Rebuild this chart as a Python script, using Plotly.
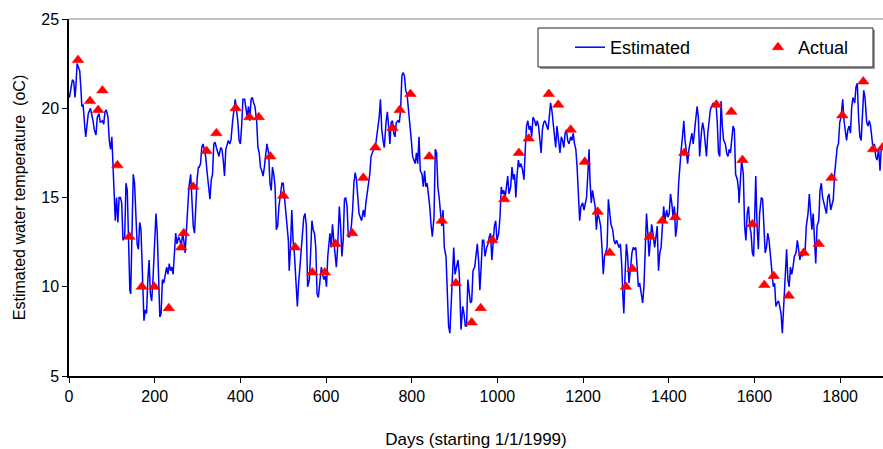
import plotly.graph_objects as go

# Estimated daily water temperature (oC), read at ~3-day spacing
est_day = [
    1, 8, 11, 14, 16, 19, 22, 25, 28, 30, 33, 35, 37, 39, 42, 45, 50, 53, 56, 59,
    63, 66, 70, 73, 78, 81, 84, 87, 91, 94, 97, 100, 102, 103, 105, 108, 111, 114, 117, 120,
    123, 126, 130, 133, 136, 139, 142, 144, 147, 150, 153, 156, 159, 162, 165, 168, 172, 175, 178, 181,
    184, 187, 190, 193, 196, 200, 203, 206, 209, 212, 215, 218, 221, 224, 228, 231, 234, 237, 240, 243,
    246, 249, 252, 256, 259, 262, 265, 268, 271, 274, 277, 280, 284, 287, 290, 293, 296, 299, 302,
    304, 307, 310, 313, 316, 319, 322, 326, 329, 332, 335, 338, 341, 344, 347, 350, 354, 357, 360, 363,
    366, 369, 372, 375, 378, 382, 385, 388, 391, 394, 397, 400, 403, 406, 410, 413, 416, 419, 422, 425,
    428, 431, 434, 438, 441, 444, 447, 450, 453, 456, 459, 462, 466, 469, 472, 475, 478, 481, 484, 487,
    490, 494, 497, 500, 503, 506, 509, 512, 514, 517, 520, 523, 526, 529, 533, 536, 539, 542, 545, 548,
    551, 554, 557, 561, 564, 567, 570, 573, 576, 579, 582, 585, 589, 592, 595, 598, 601, 604, 607,
    609, 612, 615, 618, 621, 624, 627, 631, 634, 637, 640, 643, 646, 649, 652, 655, 659, 662, 665, 668,
    671, 674, 677, 680, 683, 687, 690, 693, 696, 699, 702, 705, 708, 711, 715, 718, 721, 724, 727, 730,
    733, 736, 740, 743, 746, 749, 752, 755, 758, 761, 764, 768, 771, 774, 777, 780, 783, 786, 789, 792,
    796, 799, 802, 805, 808, 811, 814, 817, 820, 824, 827, 830, 833, 836, 839, 842, 845, 848, 852, 855,
    858, 861, 864, 867, 870, 873, 876, 880, 883, 886, 889, 892, 895, 898, 901, 904, 908, 911,
    912, 915, 919, 922, 925, 928, 931, 934, 937, 940, 943, 947, 950, 953, 956, 959, 962, 965, 968, 971,
    975, 978, 981, 984, 987, 990, 993, 996, 999, 1003, 1006, 1009, 1012, 1015, 1018, 1021, 1024, 1027, 1031, 1034,
    1037, 1040, 1043, 1046, 1049, 1052, 1055, 1059, 1062, 1065, 1068, 1071, 1074, 1077, 1080, 1083, 1087, 1090, 1093, 1096,
    1099, 1102, 1105, 1108, 1111, 1115, 1118, 1121, 1124, 1127, 1130, 1133, 1136, 1139, 1143, 1146, 1149, 1152, 1155, 1158,
    1161, 1164, 1167, 1171, 1174, 1177, 1180, 1183, 1186, 1189, 1192, 1195, 1199, 1202, 1205, 1208, 1211, 1214,
    1216, 1219, 1222, 1225, 1228, 1231, 1234, 1237, 1241, 1244, 1247, 1250, 1253, 1256, 1259, 1262, 1265, 1269, 1272, 1275,
    1278, 1281, 1284, 1287, 1290, 1293, 1295, 1298, 1301, 1304, 1307, 1311, 1314, 1317, 1320, 1323, 1326, 1329, 1332, 1335,
    1339, 1342, 1345, 1348, 1351, 1354, 1357, 1360, 1363, 1367, 1370, 1373, 1376, 1379, 1382, 1385, 1388, 1391, 1395, 1398,
    1401, 1404, 1407, 1410, 1413, 1416, 1419, 1423, 1426, 1429, 1432, 1435, 1438, 1441, 1444, 1447, 1451, 1454, 1457, 1460,
    1463, 1466, 1469, 1472, 1476, 1479, 1482, 1485, 1488, 1491, 1494, 1497, 1500, 1504, 1507, 1510, 1513, 1516, 1519,
    1522, 1525, 1528, 1532, 1535, 1538, 1541, 1544, 1547, 1550, 1553, 1556, 1560, 1563, 1564, 1567, 1570, 1574, 1577, 1580,
    1583, 1586, 1589, 1592, 1595, 1598, 1602, 1603, 1606, 1609, 1612, 1616, 1619, 1622, 1625, 1628, 1631, 1634, 1637, 1640,
    1644, 1647, 1650, 1653, 1656, 1659, 1662, 1665, 1669, 1672, 1675, 1678, 1681, 1684, 1687, 1690, 1693, 1697, 1700, 1703,
    1706, 1709, 1712, 1715, 1718, 1721, 1725, 1728, 1731, 1734, 1737, 1740, 1743, 1746, 1750, 1753, 1756, 1759, 1762, 1765,
    1768, 1771, 1774, 1778, 1781, 1784, 1787, 1790, 1793, 1796, 1799, 1802, 1806, 1809, 1812, 1815, 1818, 1821, 1824, 1827,
    1830, 1834, 1837, 1840, 1843, 1846, 1849, 1852, 1855, 1858, 1862, 1865, 1868, 1871, 1874, 1877, 1880, 1883, 1886, 1890,
    1893, 1896, 1899,
]
est_temp = [
    20.6, 21.6, 21.5, 20.6, 21.2, 22.5, 22.3, 22.1, 21.0, 20.1, 20.2, 19.3, 18.9, 18.4, 19.3, 19.7, 20.0, 19.7, 19.3, 18.8,
    18.5, 19.5, 19.7, 19.2, 19.3, 19.1, 19.8, 19.9, 19.5, 18.2, 17.7, 18.4, 17.3, 16.7, 14.9, 13.7, 15.0, 13.6, 15.0, 15.0,
    14.7, 12.6, 12.8, 15.8, 15.4, 12.8, 9.8, 9.6, 13.4, 16.3, 15.8, 13.7, 12.4, 12.1, 13.6, 13.2, 10.7, 8.1, 8.7, 8.5,
    10.4, 11.5, 9.6, 9.2, 10.4, 12.6, 14.1, 13.0, 10.4, 8.3, 8.5, 10.4, 10.2, 10.7, 11.1, 10.7, 11.3, 10.9, 11.1, 10.7,
    11.9, 13.0, 12.4, 12.8, 12.6, 12.2, 13.0, 12.6, 11.9, 13.4, 14.5, 15.6, 16.3, 14.9, 13.4, 13.0, 15.0, 16.0, 16.7,
    16.7, 16.9, 17.8, 18.0, 17.7, 17.3, 16.5, 15.4, 14.9, 16.0, 16.3, 18.0, 18.1, 17.8, 17.5, 17.3, 17.8, 17.7, 17.1, 16.2,
    17.7, 18.0, 18.2, 18.0, 18.2, 19.3, 20.1, 20.5, 19.9, 19.3, 18.2, 18.0, 19.0, 20.5, 20.5, 20.1, 19.5, 20.1, 19.3, 20.5,
    20.6, 20.3, 20.1, 19.3, 17.8, 17.5, 16.7, 16.5, 16.2, 16.7, 17.3, 18.0, 17.5, 15.8, 15.4, 16.7, 16.3, 15.6, 13.2, 13.4,
    14.5, 15.2, 15.8, 15.8, 15.0, 13.9, 13.4, 12.6, 10.9, 12.2, 14.3, 12.6, 11.9, 10.7, 8.9, 10.2, 11.1, 11.9, 13.0, 13.9,
    14.1, 13.4, 10.0, 10.4, 11.9, 13.7, 13.2, 13.0, 12.2, 9.6, 9.4, 10.2, 11.1, 10.7, 10.4, 10.6, 10.0, 11.7, 12.8,
    13.0, 12.2, 13.5, 12.6, 11.9, 11.1, 12.2, 14.5, 13.4, 11.7, 12.6, 14.9, 15.0, 14.5, 12.8, 12.8, 13.4, 14.3, 15.8, 16.4,
    16.0, 15.0, 14.1, 13.9, 13.7, 14.3, 13.9, 14.7, 15.2, 15.8, 16.3, 17.3, 17.5, 17.7, 17.8, 18.4, 19.0, 19.5, 20.5, 18.8,
    18.2, 17.8, 19.2, 19.8, 19.0, 18.0, 19.2, 19.3, 18.6, 18.4, 19.2, 19.3, 19.2, 19.9, 21.8, 22.0, 21.8, 21.0, 20.8, 20.1,
    19.2, 18.2, 17.3, 17.1, 16.9, 17.5, 16.9, 18.4, 16.5, 16.3, 15.6, 16.5, 15.6, 15.8, 15.2, 14.5, 13.5, 12.8, 13.9, 17.7,
    17.5, 15.6, 15.0, 13.9, 13.4, 14.3, 12.2, 11.7, 9.6, 7.8, 7.4, 8.9, 10.7, 12.2, 10.7, 11.1, 11.5, 10.7,
    9.6, 7.6, 8.9, 8.5, 7.8, 7.8, 10.4, 9.6, 9.1, 9.2, 10.9, 11.1, 11.9, 12.4, 11.5, 9.8, 11.1, 12.6, 12.6, 11.7,
    12.2, 12.4, 12.8, 13.0, 11.5, 12.6, 13.4, 13.7, 12.6, 13.0, 13.9, 15.6, 15.2, 15.4, 15.0, 15.6, 16.2, 15.2, 15.6, 16.7,
    16.0, 16.3, 15.0, 16.3, 17.1, 16.7, 16.9, 16.5, 16.0, 17.7, 19.0, 19.3, 18.8, 19.0, 18.4, 19.5, 19.3, 19.0, 19.3, 19.0,
    18.4, 17.5, 18.8, 19.2, 19.3, 19.0, 18.8, 19.5, 20.3, 19.9, 19.2, 18.4, 17.8, 19.0, 18.2, 17.5, 18.4, 18.2, 17.8, 18.6,
    18.8, 18.2, 18.0, 18.4, 18.2, 18.6, 18.0, 17.7, 16.7, 14.9, 13.7, 14.5, 14.7, 14.3, 14.7, 15.0, 16.3, 17.7,
    16.0, 14.7, 15.4, 15.0, 14.5, 13.2, 14.1, 13.9, 13.4, 12.2, 10.7, 11.7, 11.9, 12.2, 14.9, 14.1, 13.5, 13.2, 12.6, 12.4,
    12.6, 12.4, 12.2, 12.4, 11.3, 9.4, 8.5, 10.7, 12.4, 11.7, 10.2, 11.1, 11.9, 12.2, 12.1, 12.2, 10.7, 10.0, 10.2, 9.6,
    9.1, 10.0, 12.6, 14.1, 13.0, 11.7, 12.6, 13.5, 13.0, 12.2, 12.8, 13.4, 10.9, 11.9, 12.2, 13.5, 14.5, 13.7, 14.3, 13.9,
    14.1, 15.2, 14.7, 13.9, 14.5, 12.8, 13.4, 15.8, 16.9, 17.7, 18.4, 19.3, 18.2, 17.5, 16.9, 17.7, 18.2, 18.6, 18.0, 18.6,
    19.5, 20.1, 19.5, 17.3, 18.6, 19.2, 18.8, 18.2, 17.3, 18.6, 19.5, 19.9, 20.1, 20.3, 20.1, 20.3, 19.3, 17.5, 17.3,
    20.4, 19.0, 18.2, 18.0, 17.5, 17.3, 17.7, 17.5, 18.2, 19.0, 18.8, 16.3, 16.0, 15.4, 14.7, 16.3, 17.1, 16.3, 13.4, 12.6,
    14.1, 14.5, 13.4, 13.0, 11.9, 11.7, 15.4, 16.2, 13.4, 12.1, 14.1, 15.0, 14.9, 13.4, 11.9, 12.2, 13.0, 12.6, 11.7, 10.7,
    10.0, 10.2, 8.9, 9.1, 9.2, 8.9, 8.5, 7.4, 9.1, 11.1, 12.1, 10.4, 10.0, 11.1, 10.7, 11.1, 11.7, 11.9, 12.6, 12.1,
    11.5, 11.9, 11.7, 12.1, 11.9, 13.4, 14.1, 15.2, 14.1, 13.2, 14.1, 12.8, 11.3, 13.4, 13.7, 15.4, 15.8, 15.0, 14.7, 14.5,
    14.1, 15.0, 15.2, 14.3, 14.7, 14.9, 16.3, 17.3, 17.8, 18.0, 19.2, 19.5, 20.5, 19.3, 18.8, 18.2, 18.8, 19.0, 18.6, 20.1,
    20.6, 20.3, 21.2, 21.4, 19.5, 18.4, 18.2, 20.1, 21.0, 20.6, 19.2, 19.0, 19.3, 19.0, 18.2, 17.7, 18.0, 17.3, 17.1, 17.7,
    16.5, 17.8, 17.7,
]

# Measured water temperature (oC)
act_day = [21, 49, 68, 78, 113, 141, 170, 199, 233, 262, 268, 290, 321, 344, 389, 421,
           443, 470, 500, 528, 568, 597, 622, 661, 687, 715, 755, 772, 797, 841, 870, 903,
           940, 961, 988, 1016, 1050, 1073, 1120, 1142, 1171, 1204, 1234, 1262, 1300, 1315,
           1356, 1385, 1415, 1436, 1511, 1546, 1572, 1595, 1623, 1645, 1680, 1715, 1750,
           1780, 1805, 1854, 1877, 1899]
act_temp = [22.7, 20.4, 19.9, 21.0, 16.8, 12.8, 10.0, 10.0, 8.8, 12.2, 13.0, 15.6, 17.6, 18.6, 20.0, 19.5,
            19.5, 17.3, 15.1, 12.2, 10.8, 10.8, 12.4, 13.0, 16.1, 17.8, 18.9, 19.9, 20.8, 17.3, 13.7, 10.2,
            8.0, 8.8, 12.6, 14.9, 17.5, 18.3, 20.8, 20.2, 18.8, 17.0, 14.2, 11.9, 10.0, 11.0,
            12.8, 13.7, 13.9, 17.5, 20.2, 19.8, 17.1, 13.5, 10.1, 10.6, 9.5, 11.9, 12.4,
            16.1, 19.6, 21.5, 17.7, 17.8]

x_ticks = [0, 200, 400, 600, 800, 1000, 1200, 1400, 1600, 1800]
y_ticks = [5, 10, 15, 20, 25]

FONT = "Arial, 'Liberation Sans', sans-serif"

fig = go.Figure()
fig.add_trace(go.Scatter(
    x=est_day, y=est_temp, mode="lines", name="Estimated",
    line=dict(color="#0000FF", width=1.5),
))
fig.add_trace(go.Scatter(
    x=act_day, y=act_temp, mode="markers", name="Actual",
    marker=dict(symbol="triangle-up", size=10, color="#FF0000",
                line=dict(color="#FF0000", width=0.6)),
))

W, H = 883, 449
L, R, T, B = 69, 0, 19, 73
pw, ph = W - L - R, H - T - B


def px(xp):
    return (xp - L) / pw


def py(yp):
    return (H - B - yp) / ph


shapes = [
    # top frame line of the plot area
    dict(type="line", xref="paper", yref="paper", x0=0, x1=1, y0=1, y1=1,
         line=dict(color="#808080", width=1)),
    # legend box shadow and box
    dict(type="rect", xref="paper", yref="paper", x0=px(540), x1=px(875), y0=py(69), y1=py(30),
         line=dict(width=0), fillcolor="#9a9a9a", layer="above"),
    dict(type="rect", xref="paper", yref="paper", x0=px(538), x1=px(873), y0=py(67), y1=py(28),
         line=dict(color="#222222", width=1), fillcolor="white", layer="above"),
]

fig.update_layout(
    width=W, height=H,
    margin=dict(l=L, r=R, t=T, b=B, pad=0, autoexpand=False),
    paper_bgcolor="white", plot_bgcolor="white",
    font=dict(family=FONT, size=16, color="black"),
    shapes=shapes,
    showlegend=True,
    legend=dict(
        orientation="h", x=px(570), xanchor="left", y=py(47.5), yanchor="middle",
        bgcolor="rgba(0,0,0,0)", borderwidth=0,
        font=dict(family=FONT, size=18, color="black"),
        entrywidth=143, entrywidthmode="pixels",
    ),
    xaxis=dict(
        range=[0, 1900], tickvals=x_ticks, ticktext=[str(v) for v in x_ticks],
        showline=True, linecolor="black", linewidth=1.5,
        ticks="outside", ticklen=5, tickcolor="black", tickwidth=1,
        showgrid=False, zeroline=False,
        tickfont=dict(size=16),
        title=dict(text="Days (starting 1/1/1999)", font=dict(size=17), standoff=30),
    ),
    yaxis=dict(
        range=[5, 25], tickvals=y_ticks, ticktext=[str(v) for v in y_ticks],
        showline=True, linecolor="black", linewidth=1.5,
        ticks="outside", ticklen=5, tickcolor="black", tickwidth=1,
        showgrid=False, zeroline=False,
        tickfont=dict(size=16),
        title=dict(text="Estimated water temperature  (oC)", font=dict(size=16), standoff=12),
    ),
)

fig.write_html("out.html", config={"displayModeBar": False})
